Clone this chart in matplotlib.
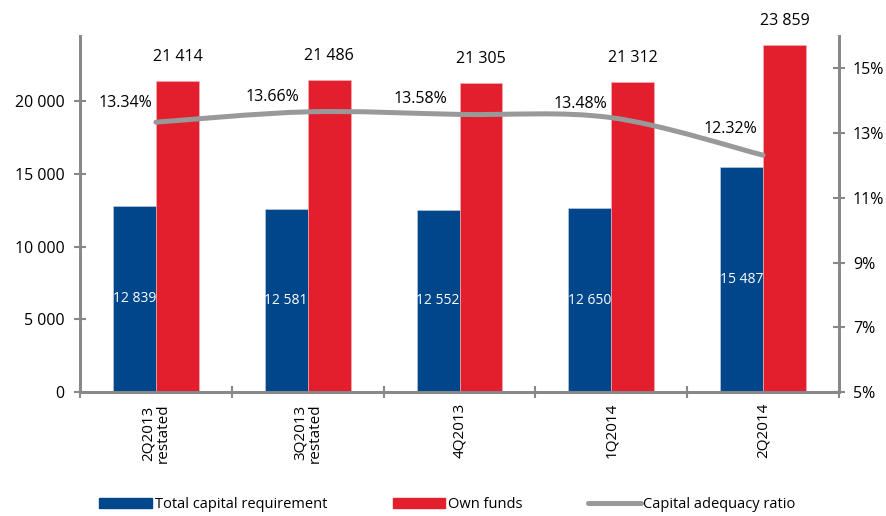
import numpy as np
import matplotlib.pyplot as plt
from matplotlib.path import Path
from matplotlib.patches import PathPatch, Patch
from matplotlib.lines import Line2D

plt.rcParams['font.family'] = ['Open Sans', 'DejaVu Sans']

quarters = ['2Q2013\nrestated', '3Q2013\nrestated', '4Q2013', '1Q2014', '2Q2014']
capital_req = [12839, 12581, 12552, 12650, 15487]
own_funds = [21414, 21486, 21305, 21312, 23859]
cap_ratio = [13.34, 13.66, 13.58, 13.48, 12.32]

blue = '#00468B'
red = '#E31E2D'
grey = '#999999'
axis_grey = '#888888'

# pixel offsets of the ratio labels (right edge, vertical centre) from their points
ratio_label_offsets = [(-4, 19), (-8, 15), (-12, 15), (-4, 14), (-6, 26)]


def fmt_thousands(v):
    return f'{v:,.0f}'.replace(',', ' ')


fig = plt.figure(figsize=(8.86, 5.16), dpi=100)
ax = fig.add_axes([0.0903, 0.2403, 0.8567, 0.6897])
ax2 = ax.twinx()

x = np.arange(len(quarters))
w = 0.283
ax.bar(x - w / 2, capital_req, w, color=blue, edgecolor='#c8d4e6', linewidth=0.4)
ax.bar(x + w / 2, own_funds, w, color=red, edgecolor='#f2b5b9', linewidth=0.4)

for xi, v in zip(x, capital_req):
    ax.text(xi - w / 2, v / 2, fmt_thousands(v), color='white', ha='center',
            va='center', fontsize=10)
for xi, v in zip(x, own_funds):
    ax.annotate(fmt_thousands(v), (xi + w / 2, v), xytext=(0, 24),
                textcoords='offset pixels', ha='center', va='center', fontsize=11.5)

ax.set_xlim(-0.5, len(quarters) - 0.5)
ax.set_ylim(0, 24500)
yt = [0, 5000, 10000, 15000, 20000]
ax.set_yticks(yt)
ax.set_yticklabels([fmt_thousands(v) for v in yt])
ax.set_xticks(x)
ax.set_xticklabels(quarters, rotation=90, va='top', ha='center', fontsize=11,
                   linespacing=0.95)
ax.set_xticks(np.arange(-0.5, len(quarters)), minor=True)
ax.tick_params(axis='x', which='major', length=0, pad=8)
ax.tick_params(axis='x', which='minor', length=8, direction='inout',
               width=1.5, color=axis_grey)
ax.tick_params(axis='y', length=8, direction='inout', width=1.5,
               color=axis_grey, labelsize=11.5, pad=7)

pt = [5, 7, 9, 11, 13, 15]
ax2.set_ylim(5, 16)
ax2.set_yticks(pt)
ax2.set_yticklabels([f'{v}%' for v in pt])
ax2.tick_params(axis='y', length=8, direction='inout', width=1.5,
                color=axis_grey, labelsize=11.5, pad=6)

for a in (ax, ax2):
    a.spines['top'].set_visible(False)
    for s in ('left', 'right', 'bottom'):
        a.spines[s].set_color(axis_grey)
        a.spines[s].set_linewidth(2)

# smoothed ratio line (Catmull-Rom converted to cubic Bezier)
pts = np.column_stack([x, cap_ratio]).astype(float)
verts = [tuple(pts[0])]
codes = [Path.MOVETO]
n = len(pts)
for i in range(n - 1):
    p0 = pts[max(i - 1, 0)]
    p1 = pts[i]
    p2 = pts[i + 1]
    p3 = pts[min(i + 2, n - 1)]
    c1 = p1 + (p2 - p0) / 6
    c2 = p2 - (p3 - p1) / 6
    verts += [tuple(c1), tuple(c2), tuple(p2)]
    codes += [Path.CURVE4] * 3
ax2.add_patch(PathPatch(Path(verts, codes), facecolor='none', edgecolor=grey,
                        linewidth=3.6, capstyle='round', zorder=5))

for xi, v, (dx, dy) in zip(x, cap_ratio, ratio_label_offsets):
    ax2.annotate(f'{v:.2f}%', (xi, v), xytext=(dx, dy),
                 textcoords='offset pixels', ha='right', va='center', fontsize=11.5)

handles = [Patch(color=blue), Patch(color=red),
           Line2D([0], [0], color=grey, linewidth=3.6, solid_capstyle='round')]
labels = ['Total capital requirement', 'Own funds', 'Capital adequacy ratio']
fig.legend(handles, labels, loc='lower center', bbox_to_anchor=(0.505, -0.018),
           ncol=3, frameon=False, fontsize=10.5, handlelength=3.6, handleheight=0.6,
           handletextpad=0.2, columnspacing=4.5)

fig.savefig('out.png', dpi=100)
